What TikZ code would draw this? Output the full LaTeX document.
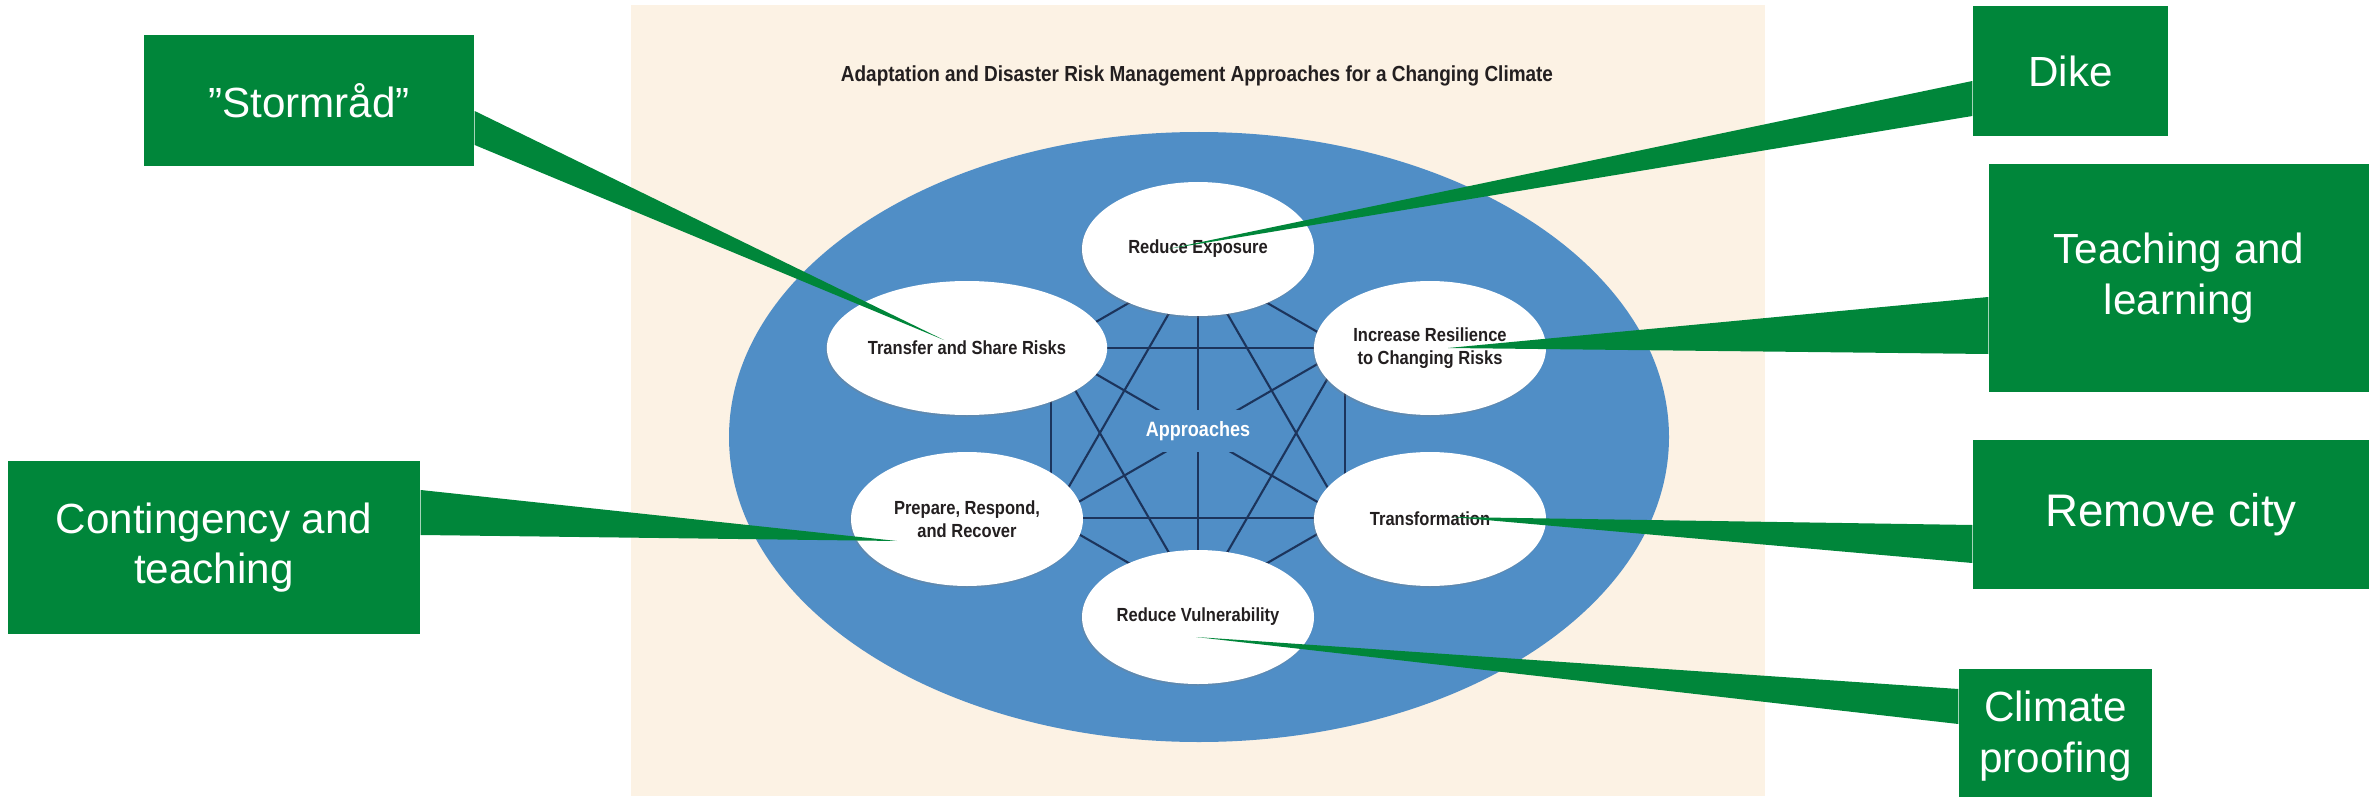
\documentclass[tikz,border=0pt]{standalone}
\usepackage{fontspec}
\setmainfont{Liberation Sans}
\newfontfamily\condfont[FakeStretch=0.87]{Liberation Sans}
\usetikzlibrary{calc,shapes,shadows,positioning}
\definecolor{calloutGreen}{RGB}{0,134,58}
\definecolor{approachBlue}{RGB}{80,142,198}
\definecolor{paperBeige}{RGB}{252,242,228}
\definecolor{linkNavy}{RGB}{28,52,92}
\definecolor{labelInk}{RGB}{35,31,32}

\tikzset{
  approach/.style={ellipse,fill=white,minimum width=2.32cm,minimum height=1.34cm,inner sep=0pt,
    align=center,text=labelInk,font=\condfont\bfseries\fontsize{5.4}{6.5}\selectfont,
    drop shadow={shadow xshift=-0.3pt,shadow yshift=-0.5pt,opacity=0.3}},
  greenbox/.style={rectangle,fill=calloutGreen,text=white,align=center,inner sep=0pt,
    font=\fontsize{12}{14.4}\selectfont},
  pointer/.style={fill=calloutGreen},
  link/.style={draw=linkNavy,line width=0.6pt}
}

\begin{document}
\begin{tikzpicture}
  \useasboundingbox (0,0) rectangle (23.69,7.96);

  % draw the paper and the title
  \fill[paperBeige] (6.31,0) rectangle (17.65,7.91);
  \node[font=\condfont\bfseries\fontsize{6.2}{7.4}\selectfont,text=labelInk] (title) at (11.97,7.20)
    {Adaptation and Disaster Risk Management Approaches for a Changing Climate};

  % draw the big ellipse
  \fill[approachBlue] (11.99,3.59) ellipse [x radius=4.70,y radius=3.05];

  % draw the links between the six approaches
  \coordinate (hub) at (11.98,3.63);
  \foreach \a [count=\ni] in {90,150,210,270,330,30}
    \coordinate (v\ni) at ($(hub)+(\a:1.70)$);
  \foreach \i in {1,...,5}
  {
    \pgfmathtruncatemacro\k{\i+1}
    \foreach \j in {\k,...,6} \draw[link] (v\i) -- (v\j);
  }
  \node[fill=approachBlue,text=white,inner xsep=1.5pt,minimum height=0.32cm,
    font=\condfont\bfseries\fontsize{5.9}{7}\selectfont] (approaches) at (11.98,3.65) {Approaches};

  % draw the approaches
  \foreach \nm/\px/\py/\txt in {
    expo/11.98/5.47/{Reduce Exposure},
    transfer/9.67/4.48/{Transfer and Share Risks},
    resil/14.30/4.48/{Increase Resilience\\to Changing Risks},
    prep/9.67/2.77/{Prepare, Respond,\\and Recover},
    transf/14.30/2.77/{Transformation},
    vuln/11.98/1.79/{Reduce Vulnerability}}
    \node[approach] (\nm) at (\px,\py) {\txt};

  % draw the green boxes
  \node[greenbox,minimum width=3.30cm,minimum height=1.31cm] (storm) at (3.09,6.955) {”Stormråd”};
  \node[greenbox,minimum width=4.12cm,minimum height=1.73cm] (cont) at (2.14,2.485) {Contingency and\\teaching};
  \node[greenbox,minimum width=1.95cm,minimum height=1.30cm] (dike) at (20.705,7.25) {Dike};
  \node[greenbox,minimum width=3.80cm,minimum height=2.28cm] (teach) at (21.79,5.18) {Teaching and\\learning};
  \node[greenbox,minimum width=3.96cm,minimum height=1.49cm,font=\fontsize{13}{15.6}\selectfont] (remove) at (21.71,2.815) {Remove city};
  \node[greenbox,minimum width=1.93cm,minimum height=1.34cm] (climate) at (20.555,0.60) {Climate\\proofing};

  % tips of the pointers
  \foreach \nm/\dx/\dy in {expo/-0.30/0, transfer/-0.23/0.08, resil/0.18/0,
    prep/-0.70/-0.22, transf/0.22/0.02, vuln/-0.02/-0.20}
    \coordinate (tip-\nm) at ($(\nm)+(\dx,\dy)$);

  % draw the pointers
  \foreach \bx/\side/\ya/\yb/\nm in {storm/east/-0.105/-0.445/transfer,
    cont/east/0.575/0.125/prep,
    dike/west/-0.10/-0.45/expo,
    teach/west/-0.19/-0.76/resil,
    remove/west/-0.105/-0.485/transf,
    climate/west/0.47/0.12/vuln}
    \fill[pointer] ($(\bx.\side)+(0,\ya)$) -- (tip-\nm) -- ($(\bx.\side)+(0,\yb)$) -- cycle;

\end{tikzpicture}
\end{document}
